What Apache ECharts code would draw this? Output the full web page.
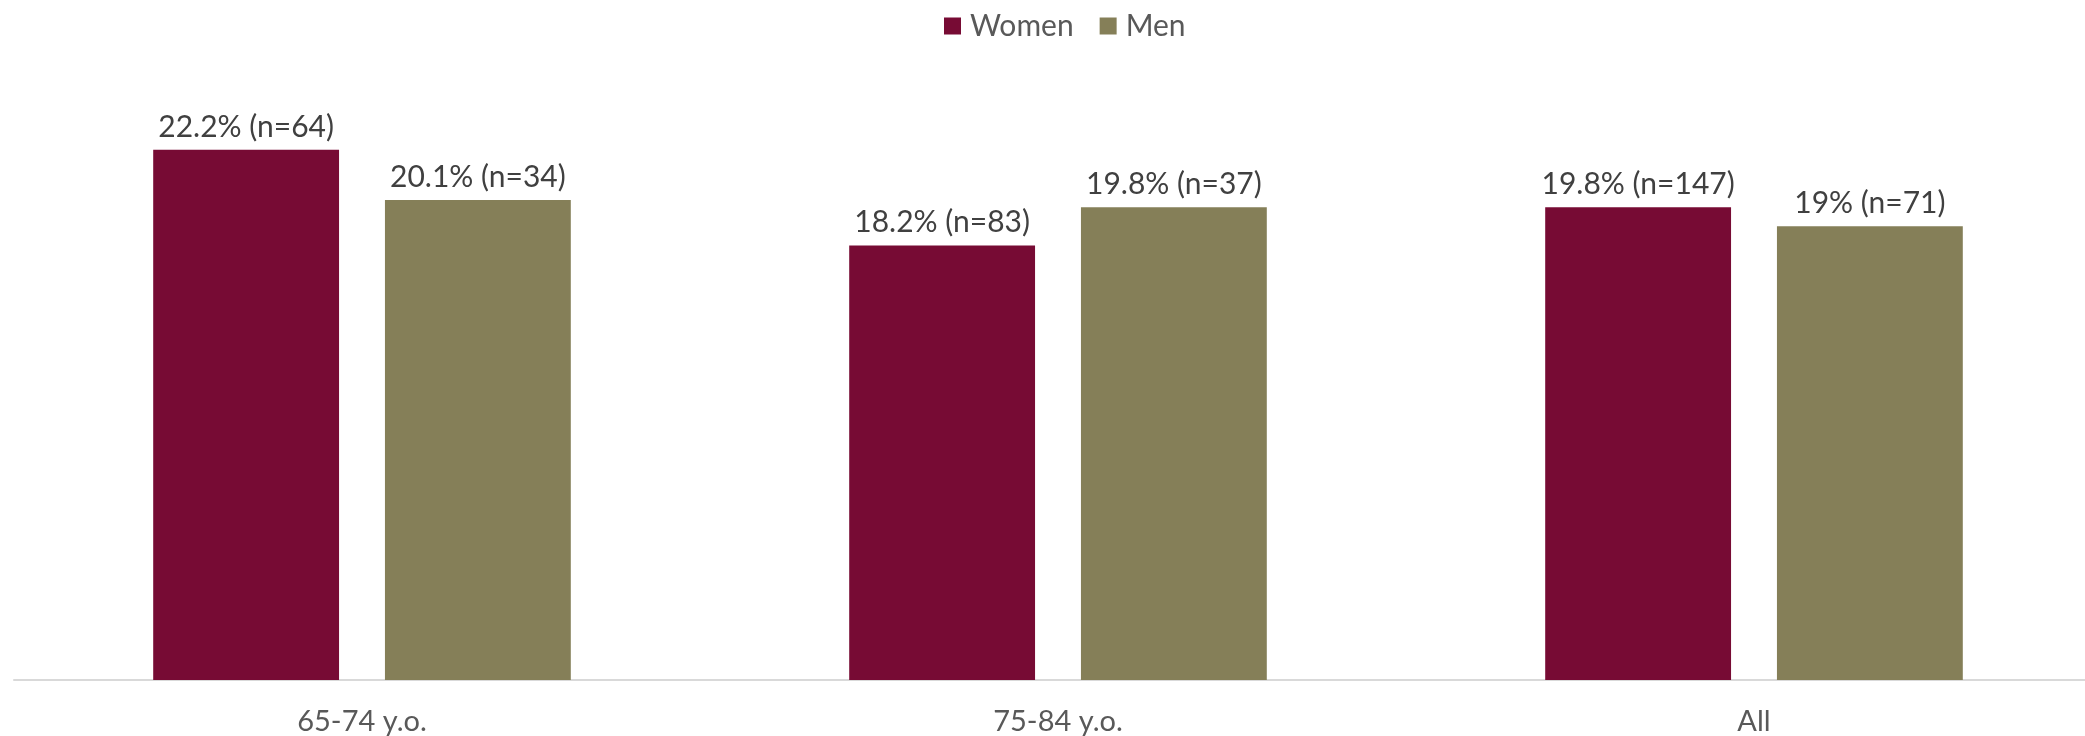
<!DOCTYPE html>
<html>
<head>
<meta charset="utf-8">
<style>
  html, body { margin: 0; padding: 0; background: #ffffff; overflow: hidden; }
  /* the plot area runs a little past the right edge of the window */
  #chart { width: 2102px; height: 736px; }
</style>
<script src="https://cdn.jsdelivr.net/npm/echarts@6/dist/echarts.min.js"></script>
</head>
<body>
<div id="chart"></div>
<script>
// Age groups along the x axis
const categories = ['65-74 y.o.', '75-84 y.o.', 'All'];

// Share of respondents (%) and sample sizes per group
const womenValues = [22.2, 18.2, 19.8];
const womenN = [64, 83, 147];
const menValues = [20.1, 19.8, 19];
const menN = [34, 37, 71];

const FONT = 'Lato, "Open Sans", sans-serif';

function labelFor(nList) {
  return {
    show: true,
    position: 'top',
    distance: 8,
    color: '#404040',
    fontFamily: FONT,
    fontSize: 30,
    formatter: p => p.value + '% (n=' + nList[p.dataIndex] + ')'
  };
}

const chart = echarts.init(document.getElementById('chart'), null, { renderer: 'canvas' });
chart.setOption({
  animation: false,
  backgroundColor: '#ffffff',
  legend: {
    top: 11,
    left: 944,
    padding: 0,
    itemWidth: 17,
    itemHeight: 17,
    itemGap: 26,
    icon: 'rect',
    textStyle: { color: '#595959', fontFamily: FONT, fontSize: 30, padding: [0, 0, 0, 4] },
    data: ['Women', 'Men']
  },
  grid: { left: 14, top: 83, right: 0, bottom: 56, containLabel: false },
  xAxis: {
    type: 'category',
    data: categories,
    axisLine: { show: true, lineStyle: { color: '#D9D9D9', width: 2 } },
    axisTick: { show: false },
    axisLabel: { color: '#595959', fontFamily: FONT, fontSize: 29, margin: 27 }
  },
  yAxis: {
    type: 'value',
    min: 0,
    max: 25,
    show: false,
    splitLine: { show: false }
  },
  series: [
    {
      name: 'Women',
      type: 'bar',
      data: womenValues,
      barGap: '24.7%',
      barCategoryGap: '40%',
      itemStyle: { color: '#770B34' },
      label: labelFor(womenN)
    },
    {
      name: 'Men',
      type: 'bar',
      data: menValues,
      itemStyle: { color: '#857F58' },
      label: labelFor(menN)
    }
  ]
});
</script>
</body>
</html>
